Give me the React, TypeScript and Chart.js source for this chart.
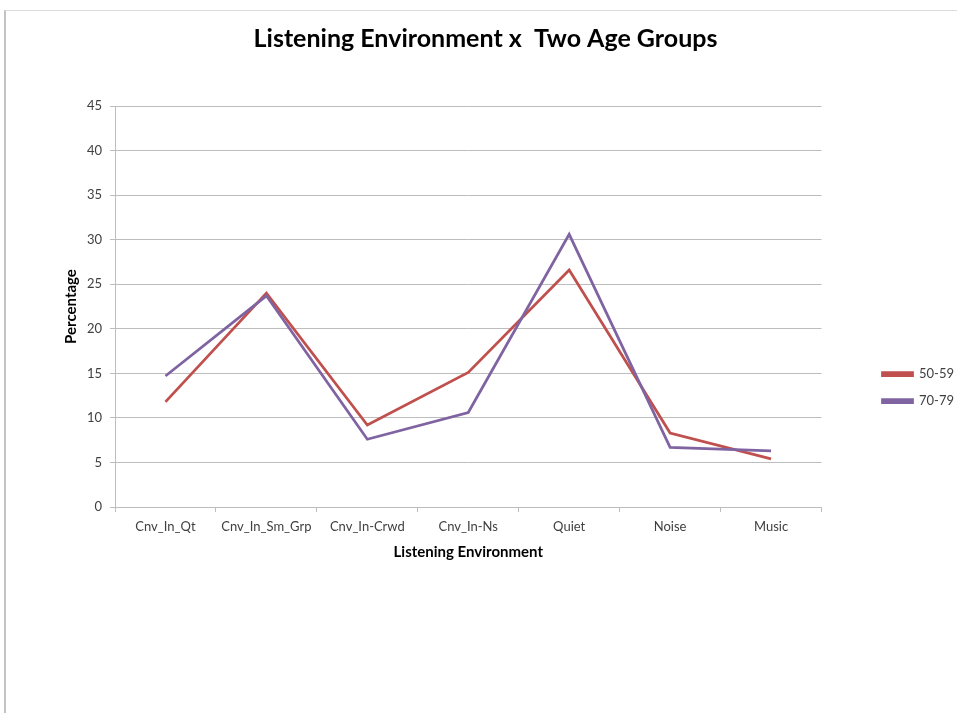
import React, { useEffect, useRef } from "react";
import { Chart, registerables } from "chart.js";

Chart.register(...registerables);

const chartTitle = "Listening Environment x  Two Age Groups";
const xAxisTitle = "Listening Environment";
const yAxisTitle = "Percentage";
const categories = ["Cnv_In_Qt", "Cnv_In_Sm_Grp", "Cnv_In-Crwd", "Cnv_In-Ns", "Quiet", "Noise", "Music"];
const seriesNames = ["50-59", "70-79"];
const values5059 = [11.8, 24.0, 9.2, 15.1, 26.6, 8.3, 5.4];
const values7079 = [14.7, 23.7, 7.6, 10.6, 30.6, 6.7, 6.3];
const yMin = 0;
const yMax = 45;
const yStep = 5;

const FONT = "Lato, 'Open Sans', 'DejaVu Sans', sans-serif";
const GRID = "#bdbdbd";

export default function App() {
  const ref = useRef<HTMLCanvasElement | null>(null);

  useEffect(() => {
    if (!ref.current) return;
    Chart.defaults.font.family = FONT;
    const chart = new Chart(ref.current, {
      type: "line",
      data: {
        labels: categories,
        datasets: [
          {
            label: seriesNames[0],
            data: values5059,
            borderColor: "#C0504D",
            backgroundColor: "#C0504D",
            borderWidth: 2.75,
            pointRadius: 0,
            tension: 0,
            order: 1,
          },
          {
            label: seriesNames[1],
            data: values7079,
            borderColor: "#8064A2",
            backgroundColor: "#8064A2",
            borderWidth: 2.75,
            pointRadius: 0,
            tension: 0,
            order: 0,
          },
        ],
      },
      options: {
        responsive: false,
        animation: false,
        layout: { padding: { left: 7, right: 0, top: 0, bottom: 148 } },
        plugins: {
          tooltip: { enabled: false },
          title: {
            display: true,
            text: chartTitle,
            color: "#000",
            font: { family: FONT, size: 25, weight: "bold" },
            padding: { top: 24, bottom: 52 },
          },
          legend: {
            display: true,
            position: "right",
            align: "center",
            title: {
              display: true,
              text: " ",
              font: { family: FONT, size: 13 },
              padding: { top: 0, bottom: 194.4 },
            },
            labels: {
              boxWidth: 30,
              boxHeight: 3,
              padding: 14,
              color: "#404040",
              font: { family: FONT, size: 13 },
              sort: (a: any, b: any) => a.datasetIndex - b.datasetIndex,
            },
          },
        },
        scales: {
          x: {
            type: "category",
            offset: true,
            grid: {
              offset: true,
              drawOnChartArea: false,
              drawTicks: true,
              tickLength: 5,
              color: GRID,
            },
            border: { display: true, color: GRID },
            ticks: {
              color: "#404040",
              font: { family: FONT, size: 13 },
              padding: 7,
              maxRotation: 0,
              autoSkip: false,
            },
            title: {
              display: true,
              text: xAxisTitle,
              color: "#000",
              font: { family: FONT, size: 15, weight: "bold" },
              padding: { top: 1.4, bottom: 4 },
            },
          },
          y: {
            type: "linear",
            min: yMin,
            max: yMax,
            ticks: {
              stepSize: yStep,
              color: "#404040",
              font: { family: FONT, size: 13 },
              padding: 8,
            },
            grid: { color: GRID, tickLength: 5, drawTicks: true },
            border: { display: true, color: GRID },
            title: {
              display: true,
              text: yAxisTitle,
              color: "#000",
              font: { family: FONT, size: 15, weight: "bold" },
              padding: { top: 55, bottom: 4 },
            },
            afterFit: (s: any) => {
              s.width = 108;
            },
          },
          pad: {
            type: "linear",
            position: "right",
            display: true,
            grid: { display: false, drawTicks: false },
            border: { display: false },
            ticks: { display: false },
            afterFit: (s: any) => {
              s.width = 47;
            },
          },
        },
      },
    } as any);
    return () => chart.destroy();
  }, []);

  return (
    <div
      style={{
        position: "fixed",
        left: 0,
        top: 0,
        width: 957,
        height: 713,
        overflow: "hidden",
        background: "#fff",
      }}
    >
      <div
        style={{
          position: "absolute",
          left: 4,
          top: 10,
          width: 953,
          height: 703,
          borderLeft: "2px solid #c4c4c4",
          borderTop: "1px solid #dcdcdc",
        }}
      />
      <canvas ref={ref} width={964} height={713} style={{ position: "absolute", left: 0, top: 0 }} />
    </div>
  );
}
